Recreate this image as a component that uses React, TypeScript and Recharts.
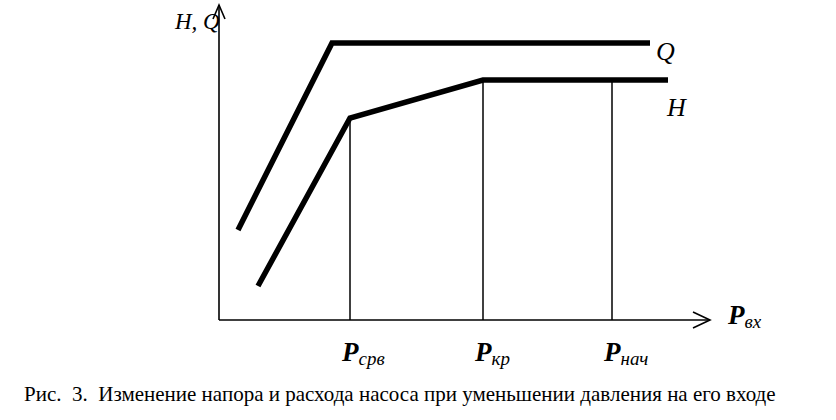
import { LineChart, Line, XAxis, YAxis } from 'recharts';

// chart units: x = pressure at pump inlet, y = head / flow (arbitrary, schematic)
const qCurve = [
  { x: 19, y: 90 },
  { x: 113, y: 277 },
  { x: 431, y: 277 },
];
const hCurve = [
  { x: 39, y: 34 },
  { x: 131, y: 202 },
  { x: 264, y: 240 },
  { x: 449, y: 240 },
];
const pTicks = [131, 264, 393];
const pTickNames = ['срв', 'кр', 'нач'];
const pTickTops = [202, 240, 240];

const xAxisLine = [{ x: 0, y: 0 }, { x: 491, y: 0 }];
const yAxisLine = [{ x: 0, y: 0 }, { x: 0, y: 315 }];
const xArrow = [{ x: 474, y: 8 }, { x: 491, y: 0 }, { x: 474, y: -8 }];
const yArrow = [{ x: -6, y: 301 }, { x: 0, y: 315 }, { x: 6, y: 301 }];

const caption = 'Рис.  3.  Изменение напора и расхода насоса при уменьшении давления на его входе';

const serif = '"Liberation Serif", "DejaVu Serif", serif';

const PTick = (props: any) => {
  const { x, y, payload } = props;
  const i = pTicks.indexOf(payload.value);
  return (
    <text x={x - 8} y={y + 23} fontFamily={serif} fontStyle="italic" fill="#000">
      <tspan fontSize={27} fontWeight="bold">P</tspan>
      <tspan fontSize={19} dy={4}>{pTickNames[i]}</tspan>
    </text>
  );
};

const verticals = pTicks.map((x, i) => [
  { x, y: 0 },
  { x, y: pTickTops[i] },
]);

const label = (left: number, top: number, size: number): React.CSSProperties => ({
  position: 'absolute',
  left,
  top,
  fontFamily: serif,
  fontStyle: 'italic',
  fontSize: size,
  lineHeight: 1,
  color: '#000',
  whiteSpace: 'nowrap',
});

export default function App() {
  return (
    <div style={{ position: 'absolute', left: 0, top: 0, width: 836, height: 420, background: '#fff' }}>
      <LineChart
        width={836}
        height={420}
        margin={{ top: 5, right: 126, bottom: 50, left: 209 }}
      >
        <XAxis
          type="number"
          dataKey="x"
          domain={[-10, 491]}
          ticks={pTicks}
          tick={<PTick />}
          axisLine={false}
          tickLine={false}
          height={40}
          interval={0}
        />
        <YAxis type="number" dataKey="y" domain={[-10, 315]} hide />

        <Line data={xAxisLine} dataKey="y" stroke="#000" strokeWidth={1.6} dot={false} isAnimationActive={false} />
        <Line data={yAxisLine} dataKey="y" stroke="#000" strokeWidth={1.6} dot={false} isAnimationActive={false} />
        <Line data={xArrow} dataKey="y" stroke="#000" strokeWidth={1.6} dot={false} isAnimationActive={false} />
        <Line data={yArrow} dataKey="y" stroke="#000" strokeWidth={1.6} dot={false} isAnimationActive={false} />

        {verticals.map((v, i) => (
          <Line key={i} data={v} dataKey="y" stroke="#000" strokeWidth={1.5} dot={false} isAnimationActive={false} />
        ))}

        <Line data={qCurve} dataKey="y" type="linear" stroke="#000" strokeWidth={5.5} dot={false} isAnimationActive={false} />
        <Line data={hCurve} dataKey="y" type="linear" stroke="#000" strokeWidth={5.5} dot={false} isAnimationActive={false} />
      </LineChart>

      <div style={label(175, 10, 23)}>H, Q</div>
      <div style={label(656, 39, 26)}>Q</div>
      <div style={label(667, 95, 26)}>H</div>
      <div style={{ ...label(728, 302, 27), fontWeight: 'bold' }}>
        P<span style={{ fontSize: 19, fontWeight: 'normal', position: 'relative', top: 4 }}>вх</span>
      </div>
      <div
        style={{
          position: 'absolute',
          left: 24,
          top: 384,
          fontFamily: serif,
          fontSize: 21,
          lineHeight: 1,
          color: '#000',
          whiteSpace: 'pre',
        }}
      >
        {caption}
      </div>
    </div>
  );
}
